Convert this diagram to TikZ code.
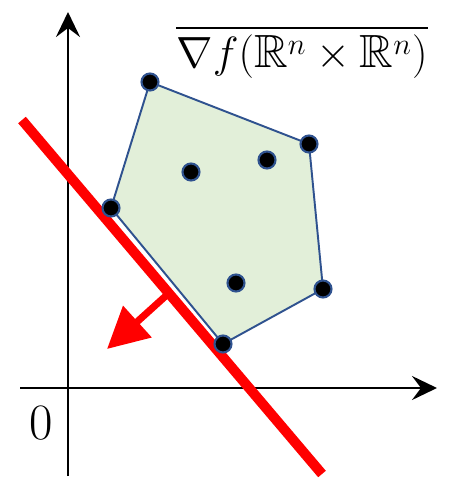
\documentclass[tikz,border=0pt]{standalone}
\usepackage{amsmath, amssymb}
\usepackage{tikz}
\usetikzlibrary{arrows.meta}
\definecolor{hullgreen}{RGB}{226,239,217}
\definecolor{hullblue} {RGB}{47,82,143}
\definecolor{cutred}   {RGB}{255,0,0}
\tikzset{
  axis/.style  ={line width=1.7pt, -{Stealth[length=0.5cm, width=0.48cm, inset=0.18cm]}},
  ptdot/.style ={circle, fill=black, draw=hullblue, line width=1.2pt,
                 minimum size=0.34cm, inner sep=0pt},
  hull/.style  ={fill=hullgreen, draw=hullblue, line width=1.1pt, line join=round},
}

\begin{document}
\begin{tikzpicture}[x=0.02cm, y=-0.02cm,
  cut/.style={cutred, line width=5.7pt},
  dir/.style={cutred, line width=4pt, -{Triangle[length=0.82cm, width=0.82cm]}},
]
\useasboundingbox (0,0) rectangle (452,480);

% axes
\coordinate (o)  at (68,388);
\coordinate (xl) at (20,388);
\coordinate (xr) at (437,388);
\coordinate (yb) at (68,476);
\coordinate (yt) at (68,12);
\draw[axis] (xl) -- (xr);
\draw[axis] (yb) -- (yt);
\node[font=\fontsize{29}{32}\selectfont, anchor=center] (zero) at (41,423) {0};

% hull corners
\coordinate (v1) at (150,82);
\coordinate (v2) at (309,144);
\coordinate (v3) at (323,289);
\coordinate (v4) at (223,344);
\coordinate (v5) at (111,208);
\path[hull] (v1) -- (v2) -- (v3) -- (v4) -- (v5) -- cycle;

% separating line
\coordinate (c1) at (22,120);
\coordinate (c2) at (322,474);
\draw[cut] (c1) -- (c2);

% normal direction
\coordinate (nb) at (169,293);
\coordinate (nt) at (107,349);
\draw[dir] (nb) -- (nt);

% points
\node[ptdot] (p1) at (v1) {};
\node[ptdot] (p2) at (v2) {};
\node[ptdot] (p3) at (v3) {};
\node[ptdot] (p4) at (v4) {};
\node[ptdot] (p5) at (v5) {};
\node[ptdot] (q1) at (191,172) {};
\node[ptdot] (q2) at (267,160) {};
\node[ptdot] (q3) at (236,283) {};

% label
\node[font=\fontsize{26.5}{30}\selectfont, anchor=center] (lab) at (302,52)
  {$\overline{\nabla f(\mathbb{R}^n \times \mathbb{R}^n)}$};
\end{tikzpicture}
\end{document}
